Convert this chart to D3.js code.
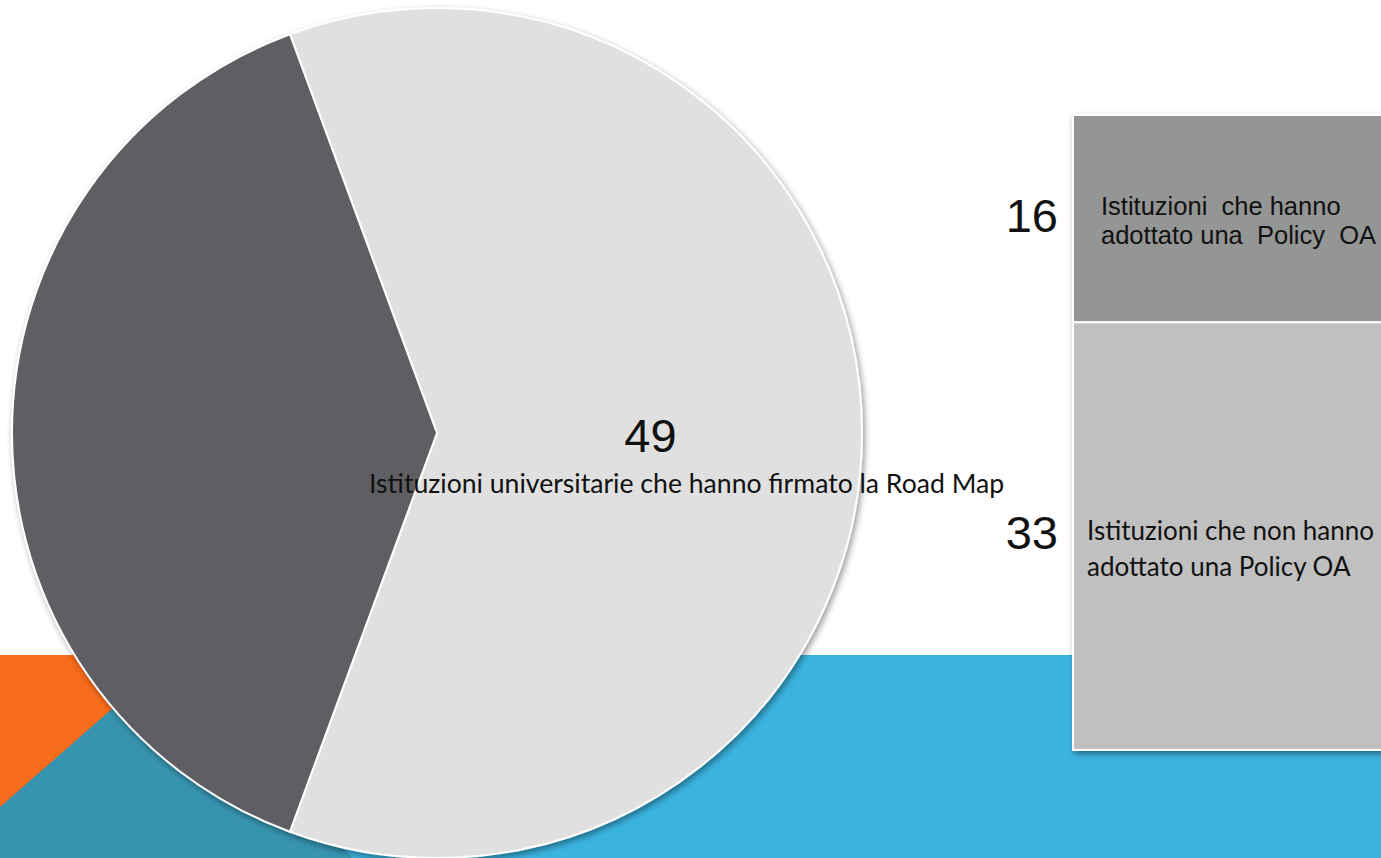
<!DOCTYPE html>
<html>
<head>
<meta charset="utf-8">
<script src="https://cdn.jsdelivr.net/npm/d3@7"></script>
<style>
  html, body { margin: 0; padding: 0; background: #ffffff; overflow: hidden; }
  svg { display: block; }
</style>
</head>
<body>
<svg id="chart" width="1381" height="858"></svg>
<script>
// Pie: institutions that signed the Road Map vs the rest
const pieCategories = ["Istituzioni universitarie che hanno firmato la Road Map", "Altre istituzioni"];
const pieValues = [49, 31];
const pieColors = ["#e0e0e0", "#5e5f63"];

// Breakdown bar of the 49 signatories
const barCategories = ["Istituzioni  che hanno\nadottato una  Policy  OA", "Istituzioni che non hanno\nadottato una Policy OA"];
const barValues = [16, 33];
const barColors = ["#949595", "#c0c0c0"];

const W = 1381, H = 858;
const svg = d3.select("#chart");
const defs = svg.append("defs");

const shadow = defs.append("filter").attr("id", "shadow")
  .attr("x", "-10%").attr("y", "-10%").attr("width", "120%").attr("height", "120%");
shadow.append("feDropShadow").attr("dx", 2).attr("dy", 3)
  .attr("stdDeviation", 3).attr("flood-color", "#000").attr("flood-opacity", 0.4);

// ---- slide background shapes ----
const bg = svg.append("g");
bg.append("rect").attr("x", 200).attr("y", 655).attr("width", W - 200).attr("height", H - 655)
  .attr("fill", "#3ab3df");
bg.append("rect").attr("x", 0).attr("y", 655).attr("width", 260).attr("height", H - 655)
  .attr("fill", "#f76b1c");
bg.append("path")
  .attr("d", d3.line()([[0, 807], [185, 645], [352, 858], [0, 858]]) + "Z")
  .attr("fill", "#3794b0");

// ---- pie ----
const cx = 437, cy = 433, R = 425;
const startDeg = -20.25;
const pie = d3.pie().sort(null)
  .startAngle(startDeg * Math.PI / 180)
  .endAngle((startDeg + 360) * Math.PI / 180);
const arcs = pie(pieValues);
const arc = d3.arc().innerRadius(0).outerRadius(R);

const pieG = svg.append("g").attr("transform", `translate(${cx},${cy})`);
pieG.append("g").attr("filter", "url(#shadow)")
  .selectAll("path").data(arcs).join("path")
  .attr("d", arc)
  .attr("fill", (d, i) => pieColors[i])
  .attr("stroke", "#ffffff").attr("stroke-width", 2).attr("stroke-linejoin", "round");

// label of the signatories slice
const c0 = arc.centroid(arcs[0]);
pieG.append("text")
  .attr("x", c0[0] + 1).attr("y", c0[1] + 19)
  .attr("text-anchor", "middle")
  .attr("font-family", "'Liberation Sans', Arial, sans-serif")
  .attr("font-size", 47).attr("fill", "#111")
  .text(pieValues[0]);
pieG.append("text")
  .attr("x", c0[0] + 37).attr("y", c0[1] + 60)
  .attr("text-anchor", "middle")
  .attr("font-family", "Lato, 'Open Sans', sans-serif")
  .attr("font-size", 26.6).attr("fill", "#111")
  .text(pieCategories[0]);

// ---- stacked breakdown bar ----
const barX = 1073, barW = 340;
const total = d3.sum(barValues);
const y = d3.scaleLinear().domain([0, total]).range([115, 750]);
let acc = 0;
const segs = barValues.map((v, i) => { const s = { v, i, y0: acc, y1: acc + v }; acc += v; return s; });

const barG = svg.append("g");
barG.append("g").attr("filter", "url(#shadow)")
  .selectAll("rect").data(segs).join("rect")
  .attr("x", barX).attr("width", barW)
  .attr("y", d => y(d.y0)).attr("height", d => y(d.y1) - y(d.y0))
  .attr("fill", d => barColors[d.i])
  .attr("stroke", "#ffffff").attr("stroke-width", 2);

// value labels left of the bar
barG.selectAll("text.val").data(segs).join("text")
  .attr("class", "val")
  .attr("x", 1058)
  .attr("y", d => (y(d.y0) + y(d.y1)) / 2 + 13)
  .attr("text-anchor", "end")
  .attr("font-family", "'Liberation Sans', Arial, sans-serif")
  .attr("font-size", 47).attr("fill", "#111")
  .text(d => d.v);

// category labels inside the segments
const catStyle = [
  { family: "'Liberation Sans', Arial, sans-serif", size: 25.5, dx: 28, lh: 29, dy: -4 },
  { family: "Lato, 'Open Sans', sans-serif", size: 26, dx: 14, lh: 36, dy: 4 }
];
segs.forEach(d => {
  const st = catStyle[d.i];
  const mid = (y(d.y0) + y(d.y1)) / 2;
  const t = barG.append("text")
    .attr("font-family", st.family).attr("font-size", st.size).attr("fill", "#111")
    .attr("xml:space", "preserve");
  barCategories[d.i].split("\n").forEach((line, k) => {
    t.append("tspan").attr("x", barX + st.dx)
      .attr("y", mid + st.dy + k * st.lh)
      .text(line);
  });
});
</script>
</body>
</html>
